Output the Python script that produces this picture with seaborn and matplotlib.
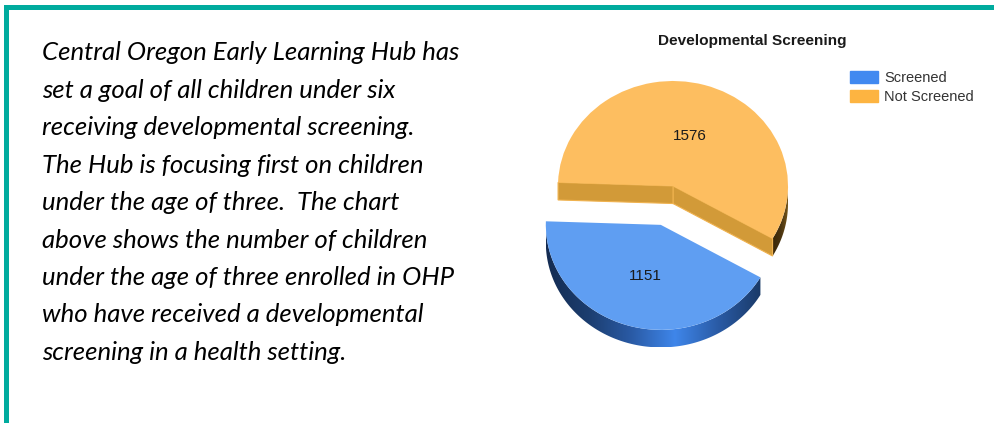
import numpy as np
import seaborn as sns
import matplotlib.pyplot as plt
from matplotlib.colors import LinearSegmentedColormap
from matplotlib.patches import Patch, Polygon, Rectangle

# Chart data
categories = ['Screened', 'Not Screened']
counts = [1151, 1576]
title = 'Developmental Screening'
body_lines = [
    'Central Oregon Early Learning Hub has',
    'set a goal of all children under six',
    'receiving developmental screening.',
    'The Hub is focusing first on children',
    'under the age of three.  The chart',
    'above shows the number of children',
    'under the age of three enrolled in OHP',
    'who have received a developmental',
    'screening in a health setting.',
]

W, H = 995, 423
TEAL = '#00AB9E'
top_colors = ['#5F9EF2', '#FDBE60']
legend_colors = ['#4189F0', '#FDB441']
WALL = '#D29A38'
DEPTH = 0.167

sns.set_theme(style='white')
plt.rcParams['font.family'] = ['Liberation Sans', 'DejaVu Sans']

fig = plt.figure(figsize=(W / 100, H / 100), dpi=100)

# Pixel box of the pie axes, 1 data unit = 115px across and 105px down
RX, RY = 115, 105
CX, CY = 673, 186
ax = fig.add_axes([(CX - 1.25 * RX) / W, 1 - (CY + 1.7 * RY) / H, 2.5 * RX / W, 2.95 * RY / H])
wedges, _ = ax.pie(counts, colors=top_colors, startangle=-30, counterclock=False,
                   explode=[0.385, 0], wedgeprops={'zorder': 5, 'linewidth': 0})
ax.set_aspect('auto')

# Extruded sides, worked out from the wedges
blue_map = LinearSegmentedColormap.from_list('b', ['#142C52', '#1C3E70', '#2A5BA6', '#3F86EA', '#2A5BA6', '#1A3A68'])
brown_map = LinearSegmentedColormap.from_list('o', ['#3A2708', '#4A3410', '#7A5A1C'])
side_maps = [blue_map, brown_map]
for wedge, cmap in zip(wedges, side_maps):
    cx, cy = wedge.center
    th = np.radians(np.linspace(wedge.theta1, wedge.theta2, 300))
    th = th[np.sin(th) <= 0.001]
    xs = cx + np.cos(th)
    ys = cy + np.sin(th)
    outline = np.column_stack([np.r_[xs, xs[::-1]], np.r_[ys, ys[::-1] - DEPTH]])
    shape = Polygon(outline, closed=True, transform=ax.transData, facecolor='none', edgecolor='none')
    ax.add_patch(shape)
    grad = np.linspace(0, 1, 256)[None, :]
    im = ax.imshow(grad, cmap=cmap, aspect='auto', zorder=2,
                   extent=[xs.min(), xs.max(), ys.min() - DEPTH, ys.max()])
    im.set_clip_path(shape)

# Inner walls of the orange slice
orange = wedges[1]
ox, oy = orange.center
for ang in [orange.theta1, orange.theta2]:
    ex, ey = ox + np.cos(np.radians(ang)), oy + np.sin(np.radians(ang))
    ax.fill([ox, ex, ex, ox], [oy, ey, ey - DEPTH, oy - DEPTH], color=WALL,
            ec='#F0B24E', lw=0.8, zorder=3)

ax.set_xlim(-1.25, 1.25)
ax.set_ylim(-1.7, 1.25)
ax.axis('off')

# Slice value labels
ax.text((645 - CX) / RX, (CY - 276) / RY, str(counts[0]), ha='center', va='center',
        fontsize=11, color='#1a1a1a', zorder=6)
ax.text((690 - CX) / RX, (CY - 136) / RY, str(counts[1]), ha='center', va='center',
        fontsize=11, color='#1a1a1a', zorder=6)

fig.text(752 / W, 1 - 41 / H, title, ha='center', va='center', fontsize=11.1,
         fontweight='bold', color='#1a1a1a')

handles = [Patch(color=c, label=n) for c, n in zip(legend_colors, categories)]
fig.legend(handles=handles, loc='upper left', bbox_to_anchor=(850 / W, 1 - 71 / H), frameon=False,
           fontsize=10.5, borderpad=0, borderaxespad=0, handlelength=1.95, handleheight=0.8,
           handletextpad=0.4, labelspacing=0.35, labelcolor='#333333')

# Body text
for i, line in enumerate(body_lines):
    fig.text(42 / W, 1 - (53 + i * 37.4) / H, line, ha='left', va='center', fontsize=18.5,
             family='Lato', style='italic', color='black')

# Teal frame
fig.patches.append(Rectangle((4 / W, 1 - 10 / H), (W - 4) / W, 5 / H, transform=fig.transFigure,
                             color=TEAL, lw=0, figure=fig))
fig.patches.append(Rectangle((4 / W, 0), 5 / W, 1 - 5 / H, transform=fig.transFigure,
                             color=TEAL, lw=0, figure=fig))

fig.savefig('out.png', dpi=100)
